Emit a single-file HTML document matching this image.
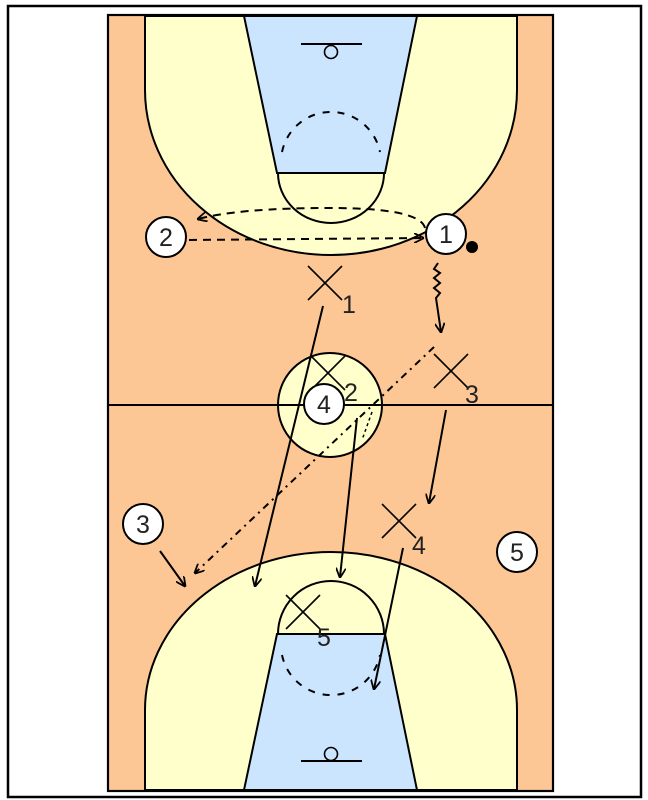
<!DOCTYPE html>
<html><head><meta charset="utf-8"><style>
html,body{margin:0;padding:0;background:#fff;width:648px;height:800px;overflow:hidden}
svg{display:block}
text{font-family:"Liberation Sans",sans-serif}
</style></head><body>
<svg width="648" height="800" viewBox="0 0 648 800" xmlns="http://www.w3.org/2000/svg">
<defs>
<marker id="ah" viewBox="0 0 10 10" refX="9" refY="5" markerWidth="10" markerHeight="10" orient="auto" markerUnits="userSpaceOnUse">
<path d="M0,0 L10,5 L0,10" fill="none" stroke="#000" stroke-width="1.8"/>
</marker>
</defs>
<rect x="8" y="6" width="633" height="791" fill="#fff" stroke="#000" stroke-width="2.5"/>
<rect x="108" y="15" width="445" height="776" fill="#fdc795" stroke="#000" stroke-width="2.2"/>
<!-- top half -->
<path d="M145,16 L145,90 A186,165 0 0 0 517,90 L517,16 Z" fill="#ffffcc" stroke="#000" stroke-width="2"/>
<path d="M244,16 L417,16 L385,173 L277,173 Z" fill="#cce5ff" stroke="#000" stroke-width="2"/>
<path d="M278,173 A53,50 0 0 0 384,173" fill="none" stroke="#000" stroke-width="2"/>
<path d="M282,152 A50,50 0 0 1 380,152" fill="none" stroke="#000" stroke-width="2" stroke-dasharray="7,8"/>
<line x1="301" y1="44" x2="362" y2="44" stroke="#000" stroke-width="2"/>
<circle cx="331" cy="52" r="6.5" fill="none" stroke="#000" stroke-width="1.6"/>
<!-- bottom half -->
<path d="M145,790 L145,710 A186,158 0 0 1 517,710 L517,790 Z" fill="#ffffcc" stroke="#000" stroke-width="2"/>
<path d="M244,790 L417,790 L385,634 L277,634 Z" fill="#cce5ff" stroke="#000" stroke-width="2"/>
<path d="M278,634 A53,53 0 0 1 384,634" fill="none" stroke="#000" stroke-width="2"/>
<path d="M282,655 A50,50 0 0 0 380,655" fill="none" stroke="#000" stroke-width="2" stroke-dasharray="7,8"/>
<line x1="301" y1="761" x2="362" y2="761" stroke="#000" stroke-width="2"/>
<circle cx="331" cy="754" r="6.5" fill="none" stroke="#000" stroke-width="1.6"/>
<!-- midcourt -->
<circle cx="330" cy="405" r="52" fill="#ffffcc" stroke="#000" stroke-width="2"/>
<line x1="108" y1="405" x2="553" y2="405" stroke="#000" stroke-width="2"/>

<!-- passes / movement -->
<path d="M425,228 Q420,208 330,208 Q240,208 198,219" fill="none" stroke="#000" stroke-width="2" stroke-dasharray="8,6" marker-end="url(#ah)"/>
<path d="M189,240 L423,238" fill="none" stroke="#000" stroke-width="2" stroke-dasharray="8,6" marker-end="url(#ah)"/>
<path d="M438,263 l-4,6 l6,4 l-6,5 l6,5 l-6,5 l6,5 l-4,5 L441,332" fill="none" stroke="#000" stroke-width="2" marker-end="url(#ah)"/>
<path d="M434,347 L195,573" fill="none" stroke="#000" stroke-width="2" stroke-dasharray="7,5,2,5" marker-end="url(#ah)"/>
<path d="M323,306 L255,586" fill="none" stroke="#000" stroke-width="2" marker-end="url(#ah)"/>
<path d="M357,418 L340,577" fill="none" stroke="#000" stroke-width="2" marker-end="url(#ah)"/>
<path d="M446,410 L429,503" fill="none" stroke="#000" stroke-width="2" marker-end="url(#ah)"/>
<path d="M403,548 L374,689" fill="none" stroke="#000" stroke-width="2" marker-end="url(#ah)"/>
<path d="M160,551 L185,586" fill="none" stroke="#000" stroke-width="2" marker-end="url(#ah)"/>
<path d="M372,412 L362,440" fill="none" stroke="#000" stroke-width="1.5" stroke-dasharray="3,3"/>

<!-- defenders -->
<g stroke="#000" stroke-width="1.6">
<line x1="308" y1="266" x2="342" y2="300"/><line x1="342" y1="266" x2="308" y2="300"/>
<line x1="311" y1="356" x2="345" y2="390"/><line x1="345" y1="356" x2="311" y2="390"/>
<line x1="434" y1="354" x2="468" y2="388"/><line x1="468" y1="354" x2="434" y2="388"/>
<line x1="382" y1="504" x2="416" y2="538"/><line x1="416" y1="504" x2="382" y2="538"/>
<line x1="286" y1="595" x2="320" y2="629"/><line x1="320" y1="595" x2="286" y2="629"/>
</g>
<g font-size="25" fill="#222">
<text x="342" y="313">1</text>
<text x="344" y="401">2</text>
<text x="465" y="403">3</text>
<text x="412" y="554">4</text>
<text x="317" y="646">5</text>
</g>

<!-- offense -->
<g fill="#fff" stroke="#000" stroke-width="2">
<circle cx="166" cy="237" r="20"/>
<circle cx="446" cy="234" r="20"/>
<circle cx="143" cy="524" r="20"/>
<circle cx="517" cy="552" r="20"/>
<circle cx="324" cy="404" r="20"/>
</g>
<circle cx="472" cy="247" r="6" fill="#000"/>
<g font-size="25" fill="#222" text-anchor="middle">
<text x="166" y="246">2</text>
<text x="446" y="243">1</text>
<text x="143" y="533">3</text>
<text x="517" y="561">5</text>
<text x="324" y="413">4</text>
</g>
</svg>
</body></html>
